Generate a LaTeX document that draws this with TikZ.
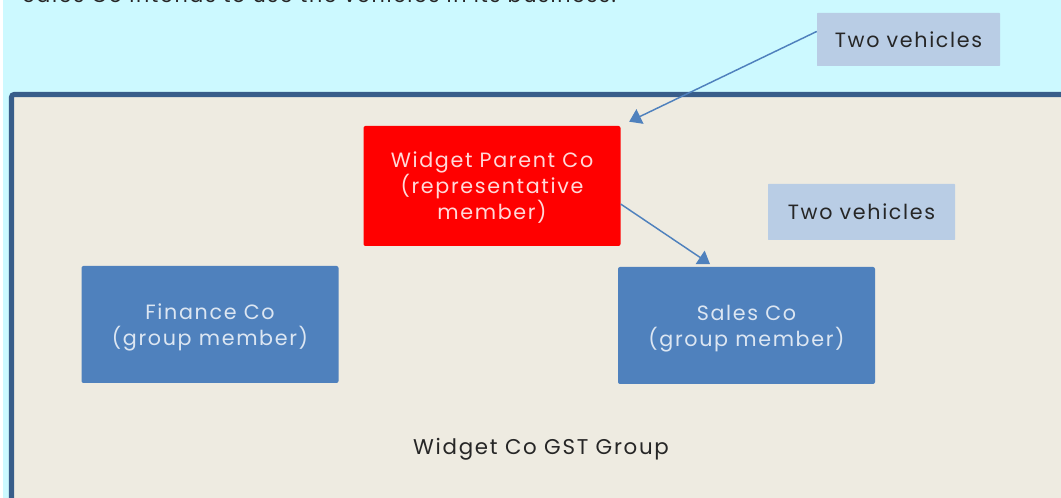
\documentclass[tikz,border=0pt]{standalone}
\usepackage{fontspec}
\setmainfont{Poppins}[LetterSpace=8]
\usetikzlibrary{arrows.meta}

\definecolor{skycyan}{HTML}{CCF9FF}
\definecolor{tanbg}{HTML}{EEEBE1}
\definecolor{framedark}{HTML}{385D8A}
\definecolor{memberblue}{HTML}{4F81BD}
\definecolor{vehblue}{HTML}{B9CDE5}
\definecolor{memtext}{HTML}{DCE6F2}
\definecolor{redtext}{HTML}{FFD9D9}
\definecolor{inktext}{HTML}{262626}

\tikzset{
  member/.style={fill=memberblue, rounded corners=1.5pt, text=memtext, align=center, text depth=0pt,
    minimum width=192.75pt, minimum height=87.75pt, font=\fontsize{15.5}{19.5}\selectfont},
  vehicles/.style={fill=vehblue, text=inktext, align=center, rounded corners=0.5pt,
    font=\fontsize{15.5}{19.5}\selectfont},
  link/.style={draw=memberblue, line width=1.1pt, -{Triangle[length=9pt,width=12pt]}},
}

\begin{document}
\begin{tikzpicture}[x=0.75pt,y=0.75pt,yscale=-1,xscale=1]
    \useasboundingbox (0,0) rectangle (1061,498);
    \clip (0,0) rectangle (1061,498);

    % background
    \fill[white] (0,0) rectangle (1061,498);
    \fill[skycyan] (3,0) rectangle (1061,498);
    % Text Node
    \node[anchor=base west, text=inktext, font=\fontsize{15.5}{19.5}\selectfont] (note) at (18,3) {Sales Co intends to use the vehicles in its business.};

    % group frame
    \draw[framedark, line width=3.8pt, fill=tanbg, rounded corners=2pt] (11.5,94.5) rectangle (1075,515);

    % Text Node
    \node[vehicles, minimum width=137.25pt, minimum height=39.75pt] (veh1) at (908.5,39.5) {Two vehicles};
    % Text Node
    \node[member, fill=red, text=redtext, minimum height=90pt] (parent) at (492,186) {Widget Parent Co\\(representative\\member)};
    % Text Node
    \node[vehicles, minimum width=140.25pt, minimum height=42pt] (veh2) at (861.5,212) {Two vehicles};
    % Text Node
    \node[member] (finance) at (210,324.5) {Finance Co\\(group member)};
    % Text Node
    \node[member] (sales) at (746.5,325.5) {Sales Co\\(group member)};
    % Text Node
    \node[text=inktext, font=\fontsize{16}{19.5}\selectfont] (group) at (541,449) {Widget Co GST Group};

    % Straight Lines
    \draw[link, shorten >=7pt] (veh1.175) -- (parent.north east);
    \draw[link, shorten >=3.5pt] (parent.-8) -- (sales.119);

\end{tikzpicture}
\end{document}
